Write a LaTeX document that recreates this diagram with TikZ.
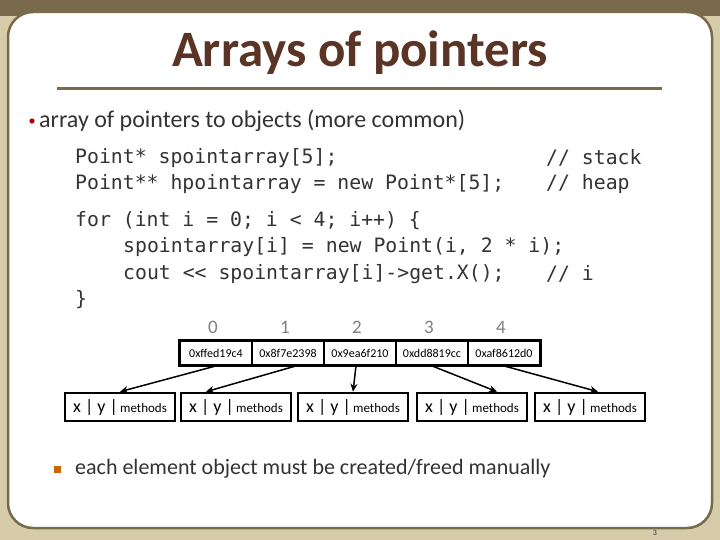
\documentclass[tikz,border=0pt]{standalone}
\usepackage{fontspec}
\setmainfont{Carlito}
\setmonofont{DejaVu Sans Mono}
\usetikzlibrary{arrows.meta}
\definecolor{frame}{HTML}{796A4C}
\definecolor{beige}{HTML}{D6CCA9}
\definecolor{titlec}{HTML}{5A3424}
\definecolor{txt}{HTML}{333333}
\tikzset{
 code/.style={anchor=west,inner sep=0,font=\fontsize{19.8}{19.8}\ttfamily,text=txt},
 cell/.style={draw=black,line width=1.8pt,minimum width=72pt,minimum height=24pt,inner sep=0,font=\fontsize{12}{12}\selectfont},
 obj/.style={draw=black,line width=2.6pt,minimum width=110pt,minimum height=28pt,inner sep=0},
 idx/.style={font=\fontsize{19}{19}\selectfont,text=gray},
 arr/.style={-{Stealth[length=8pt,width=7pt]},line width=1.5pt}
}
\newcommand{\objtxt}{{\fontsize{18}{18}\selectfont x | y |} {\fontsize{13}{13}\selectfont methods}}
\begin{document}
\begin{tikzpicture}[x=1pt,y=-1pt]
\fill[beige] (0,0) rectangle (720,540);
\fill[frame] (0,0) rectangle (720,16);
\draw[frame,line width=2.5pt,fill=white,rounded corners=25pt] (8,12) rectangle (712,528);
\node[font=\fontsize{51}{51}\bfseries\selectfont,text=titlec] (title) at (360,53) {Arrays of pointers};
\draw[frame,line width=3pt] (57,89) -- (662,89);
\fill[red!70!black] (32,121) circle (2.6pt);
\node[anchor=west,inner sep=0,font=\fontsize{24}{24}\selectfont,text=txt] (b1) at (39,121) {array of pointers to objects (more common)};
\node[code] (l1) at (75,158) {Point* spointarray[5];};
\node[code] (l2) at (75,184) {Point** hpointarray = new Point*[5];};
\node[code] (c1) at (546,158) {// stack};
\node[code] (c2) at (546,184) {// heap};
\node[code] (l3) at (75,221) {for (int i = 0; i < 4; i++) \{};
\node[code] (l4) at (123,247) {spointarray[i] = new Point(i, 2 * i);};
\node[code] (l5) at (123,274) {cout << spointarray[i]->get.X();};
\node[code] (c3) at (546,274) {// i};
\node[code] (l6) at (75,300) {\}};
\foreach \i/\x/\t in {0/216/0xffed19c4,1/288/0x8f7e2398,2/360/0x9ea6f210,3/432/0xdd8819cc,4/504/0xaf8612d0}{
  \node[idx] (i\i) at (\x-3,327) {\i};
  \node[cell] (a\i) at (\x,353) {\t};
}
\draw[black,line width=2.6pt] (a0.north west) rectangle (a4.south east);
\foreach \i/\x in {0/120,1/236,2/353,3/472,4/590}{
  \node[obj] (o\i) at (\x,407) {\objtxt};
}
\draw[arr] (a0.south) -- (o0.north);
\draw[arr] ([xshift=8pt]a1.south) -- ([xshift=-30pt]o1.north);
\draw[arr] ([xshift=-4pt]a2.south) -- (o2.north);
\draw[arr] (a3.south) -- ([xshift=25pt]o3.north);
\draw[arr] (a4.south) -- ([xshift=8pt]o4.north);
\fill[orange!80!black] (54,466) rectangle (61,473);
\node[anchor=west,inner sep=0,font=\fontsize{22}{22}\selectfont,text=txt] (b2) at (75,469) {each element object must be created/freed manually};
\node[font=\fontsize{8}{8}\selectfont,text=txt] (pg) at (655,533) {3};
\end{tikzpicture}
\end{document}
